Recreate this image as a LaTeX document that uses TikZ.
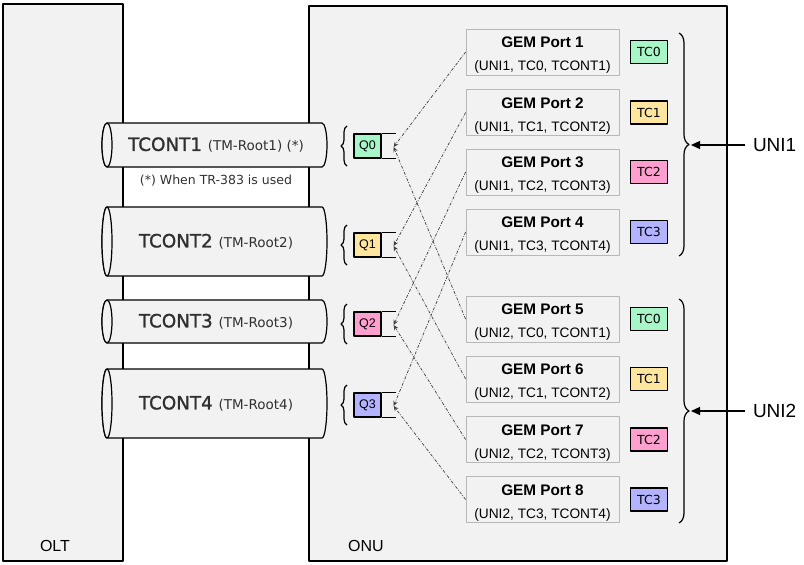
\documentclass[tikz,border=0pt]{standalone}
\usepackage{fontspec}
\setmainfont{Liberation Sans}
\newfontfamily\dvfont{DejaVu Sans}
\newfontfamily\dvheavy{DejaVu Sans}[FakeBold=1.3]
\usepackage{tikz}
\usetikzlibrary{arrows.meta,decorations.pathreplacing,positioning}
\definecolor{bgray}{HTML}{F2F2F2}
\definecolor{tgray}{HTML}{303030}
\definecolor{tc0}{HTML}{A8F5C8}
\definecolor{tc1}{HTML}{FFE69F}
\definecolor{tc2}{HTML}{FF9FD0}
\definecolor{tc3}{HTML}{B3B3FF}
\tikzset{
  box/.style={draw,line width=1.2pt,fill=bgray},
  pipetext/.style={text=tgray,font=\dvheavy\fontsize{18.3}{20}\selectfont,inner sep=0pt},
  gemport/.style={draw=black!28,fill=bgray,line width=0.8pt,minimum width=153pt,minimum height=46pt,
    inner sep=0pt,align=center,font=\fontsize{13.7}{23}\selectfont},
  tcbox/.style={draw,line width=1.3pt,minimum width=37pt,minimum height=23pt,inner sep=0pt,
    font=\dvfont\fontsize{12.5}{14}\selectfont},
  qbox/.style={draw,line width=1.3pt,minimum width=27pt,minimum height=24pt,inner sep=0pt,
    font=\fontsize{12.5}{14}\selectfont},
  qbrace/.style={decorate,decoration={brace,amplitude=6pt},line width=1.2pt},
  unibrace/.style={decorate,decoration={brace,amplitude=10pt},line width=1.2pt},
  gemlink/.style={black!75,line width=0.7pt,dash pattern=on 3pt off 1.5pt on 0.8pt off 1.5pt,
    -{Stealth[length=5pt,width=4.5pt]}},
  unilink/.style={line width=1.2pt,-{Triangle[length=9pt,width=8pt]}},
}
\newcommand\tcpipe[2]{%
  \pgfmathsetmacro\piperad{(#2-#1)/2}%
  \filldraw[box] (107,#1) -- (322,#1) arc[start angle=90,end angle=-90,x radius=5pt,y radius=\piperad pt]
    -- (107,#2) arc[start angle=270,end angle=90,x radius=5pt,y radius=\piperad pt] -- cycle;
  \draw[box] (107,#1) ++(0,\piperad) ellipse[x radius=5pt,y radius=\piperad pt];}

\begin{document}
\begin{tikzpicture}[x=1pt,y=-1pt,line join=round]
\useasboundingbox (0,0) rectangle (804,565);
\draw[box] (3,4) rectangle (123,561);
\draw[box] (309,6) rectangle (727,561);
\node[font=\fontsize{16}{18}\selectfont] (olt) at (55,546) {OLT};
\node[font=\fontsize{16}{18}\selectfont] (onu) at (366,546) {ONU};
\foreach \n/\t/\b/\s in {1/123/167/{\ (*)},2/207/276/{},3/300/343/{},4/369/438/{}}{
  \tcpipe{\t}{\b}
  \node[pipetext] (tcont\n) at (216,{(\t+\b)/2}) {TCONT\n\ {\dvfont\fontsize{13.5}{16}\selectfont(TM-Root\n)\s}};}
\node[text=tgray,font=\dvfont\fontsize{12.5}{14}\selectfont] (note) at (216,181) {(*) When TR-383 is used};
\foreach \n/\c in {0/146,1/245,2/324,3/405}{
  \node[qbox,fill=tc\n] (q\n) at (367.5,\c) {Q\n};
  \draw[line width=1.3pt] (q\n.north east) -- ++(14,0) (q\n.south east) -- ++(14,0);
  \coordinate (qin\n) at ([xshift=12pt,yshift=-1pt]q\n.east);
  \draw[qbrace] (347,\c+20) -- (347,\c-20);}
\foreach \n/\c/\u/\t/\k in {1/52/1/0/1,2/112.5/1/1/2,3/172/1/2/3,4/232/1/3/4,
                            5/319/2/0/1,6/379/2/1/2,7/439.5/2/2/3,8/499.5/2/3/4}{
  \node[gemport] (gp\n) at (542.5,\c) {\rule{0pt}{17pt}{\fontsize{15.3}{23}\selectfont\bfseries GEM Port \n}\\(UNI\u, TC\t, TCONT\k)};
  \node[tcbox,fill=tc\t] (tc\n) at (649,\c) {TC\t};
  \draw[gemlink] (gp\n.west) -- (qin\t);}
\draw[unibrace] (679,33) -- (679,256);
\draw[unibrace] (679,299) -- (679,523);
\coordinate (uni1tip) at (691,145);
\coordinate (uni2tip) at (691,411);
\node[anchor=west,inner sep=0pt,outer sep=8pt,font=\fontsize{19}{21}\selectfont] (uni1) at (745,145) {UNI1};
\node[anchor=west,inner sep=0pt,outer sep=8pt,font=\fontsize{19}{21}\selectfont] (uni2) at (745,411) {UNI2};
\draw[unilink] (uni1) -- (uni1tip);
\draw[unilink] (uni2) -- (uni2tip);
\end{tikzpicture}
\end{document}
